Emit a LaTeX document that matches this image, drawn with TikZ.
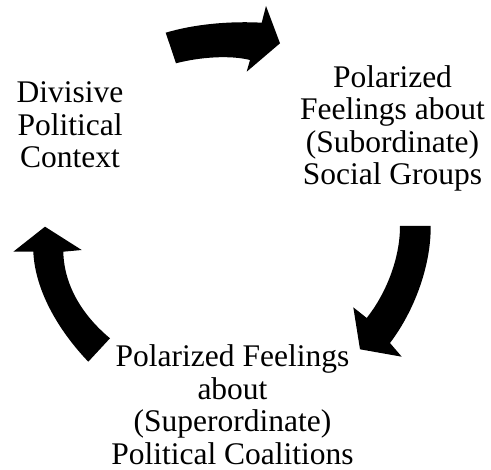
\documentclass[tikz,border=0pt]{standalone}
\usepackage{fontspec}
\setmainfont{Liberation Serif}
\begin{document}
\begin{tikzpicture}[x=1pt,y=-1pt,
  lbl/.style={align=center,inner sep=0pt,anchor=north,font=\fontsize{31.5}{32.5}\selectfont},
  bigarrow/.style={fill=black,draw=none}]
\useasboundingbox[fill=white] (0,0) rectangle (491,470);
\node[lbl] (ctx) at (70,81.5) {Divisive\\Political\\Context};
\node[lbl] (sub) at (392.5,65) {Polarized\\Feelings about\\(Subordinate)\\Social Groups};
\node[lbl] (sup) at (232.5,344.5) {Polarized Feelings\\about\\(Superordinate)\\Political Coalitions};
% top arrow
\fill[bigarrow] (165.7,32.7) .. controls (195,24) and (230,21) .. (261.7,22.7)
  -- (266,6) -- (280,43.3) -- (246.7,71.7) -- (250,60)
  .. controls (230,55) and (200,57) .. (176,63.3) -- cycle;
% right arrow
\fill[bigarrow] (400,226) .. controls (400,260) and (385,295) .. (366.7,318)
  -- (353.3,307.3) -- (360,349.3) -- (401.7,356.7) -- (390,343)
  .. controls (415,310) and (431,265) .. (430.7,226) -- cycle;
% left arrow
\fill[bigarrow] (45,226.7) -- (13.3,251.7) -- (33.3,251.7)
  .. controls (35,290) and (58,330) .. (88.3,361.7) -- (110,338.3)
  .. controls (82,315) and (64,285) .. (63.3,251.7) -- (81.7,250) -- cycle;
\end{tikzpicture}
\end{document}
